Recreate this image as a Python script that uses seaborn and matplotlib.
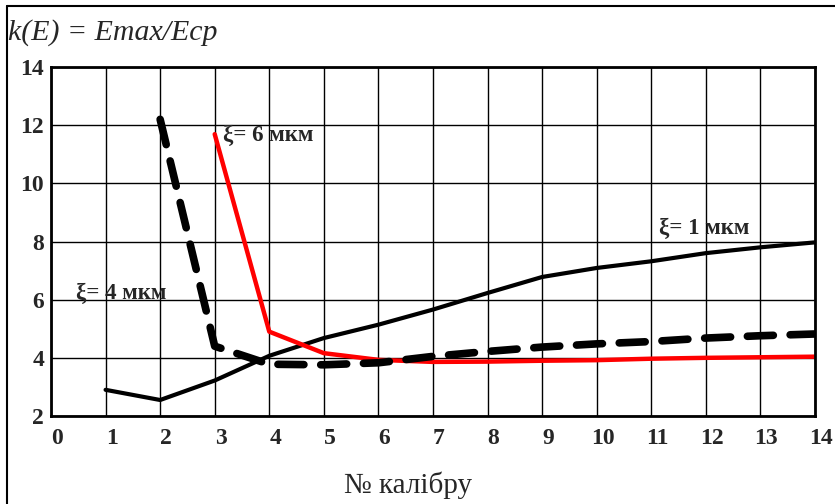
import matplotlib
matplotlib.use("Agg")
import matplotlib.pyplot as plt
import matplotlib.transforms as mtransforms
from matplotlib.lines import Line2D
import pandas as pd
import seaborn as sns

# k(E) = Emax/Ecp per caliber, for three values of xi
calibers_1um = [1, 2, 3, 4, 5, 6, 7, 8, 9, 10, 11, 12, 13, 14]
k_1um = [2.9, 2.55, 3.22, 4.07, 4.68, 5.14, 5.66, 6.23, 6.78, 7.09, 7.32, 7.6, 7.8, 7.97]

calibers_4um = [2, 3, 4, 5, 6, 7, 8, 9, 10, 11, 12, 13, 14]
k_4um = [12.2, 4.4, 3.78, 3.76, 3.83, 4.05, 4.22, 4.37, 4.48, 4.56, 4.68, 4.76, 4.82]

calibers_6um = [3, 4, 5, 6, 7, 8, 9, 10, 11, 12, 13, 14]
k_6um = [11.69, 4.9, 4.16, 3.93, 3.86, 3.87, 3.9, 3.92, 3.97, 4.0, 4.02, 4.04]

x_ticks = list(range(0, 15))
y_ticks = [2, 4, 6, 8, 10, 12, 14]

labels = ["ξ= 1 мкм", "ξ= 4 мкм", "ξ= 6 мкм"]
label_pos = [(11.15, 8.45), (0.45, 6.2), (3.15, 11.65)]

sns.set_theme(style="white")
serif = ["Liberation Serif", "DejaVu Serif"]
plt.rcParams["font.family"] = serif

df1 = pd.DataFrame({"caliber": calibers_1um, "k": k_1um})
df4 = pd.DataFrame({"caliber": calibers_4um, "k": k_4um})
df6 = pd.DataFrame({"caliber": calibers_6um, "k": k_6um})

fig = plt.figure(figsize=(8.35, 5.04), dpi=100)
ax = fig.add_axes([51 / 835, 88 / 504, 764 / 835, 349 / 504])

ax.set_xlim(0, 14)
ax.set_ylim(2, 14)
ax.set_xticks(x_ticks)
ax.set_yticks(y_ticks)
ax.grid(True, color="black", linewidth=1.0)
ax.set_axisbelow(True)

sns.lineplot(data=df1, x="caliber", y="k", ax=ax, color="black", linewidth=3.0)
sns.lineplot(data=df6, x="caliber", y="k", ax=ax, color="#ff0000", linewidth=3.2)
sns.lineplot(data=df4, x="caliber", y="k", ax=ax, color="black", linewidth=5.5)
dash_line = ax.get_lines()[-1]
dash_line.set_dashes([3.4, 2.2])
dash_line.set_dash_capstyle("round")

for spine in ax.spines.values():
    spine.set_color("black")
    spine.set_linewidth(2)

ax.set_xlabel("")
ax.set_ylabel("")
ax.tick_params(axis="both", length=0, labelsize=17)
ax.tick_params(axis="x", pad=9)
ax.tick_params(axis="y", pad=5)
for t in ax.get_xticklabels() + ax.get_yticklabels():
    t.set_fontweight("bold")
    t.set_family(serif)
offset = mtransforms.ScaledTranslation(6 / 100, 0, fig.dpi_scale_trans)
for t in ax.get_xticklabels():
    t.set_transform(t.get_transform() + offset)

for text, (tx, ty) in zip(labels, label_pos):
    ax.text(tx, ty, text, fontsize=16.5, fontweight="bold", family=serif,
            ha="left", va="center")

fig.text(8 / 835, 1 - 33 / 504, "k(E) = Emax/Ecp", fontsize=21.5, style="italic",
         family=serif, ha="left", va="center")
fig.text(408 / 835, 1 - 485 / 504, "№ калібру", fontsize=21, family=serif,
         ha="center", va="center")

# outer frame: left and top edges only
fig.add_artist(Line2D([7 / 835, 7 / 835], [0, 1 - 6 / 504], transform=fig.transFigure,
                      color="black", linewidth=1.5))
fig.add_artist(Line2D([7 / 835, 1], [1 - 6 / 504, 1 - 6 / 504], transform=fig.transFigure,
                      color="black", linewidth=1.5))

fig.savefig("out.png", dpi=100)
